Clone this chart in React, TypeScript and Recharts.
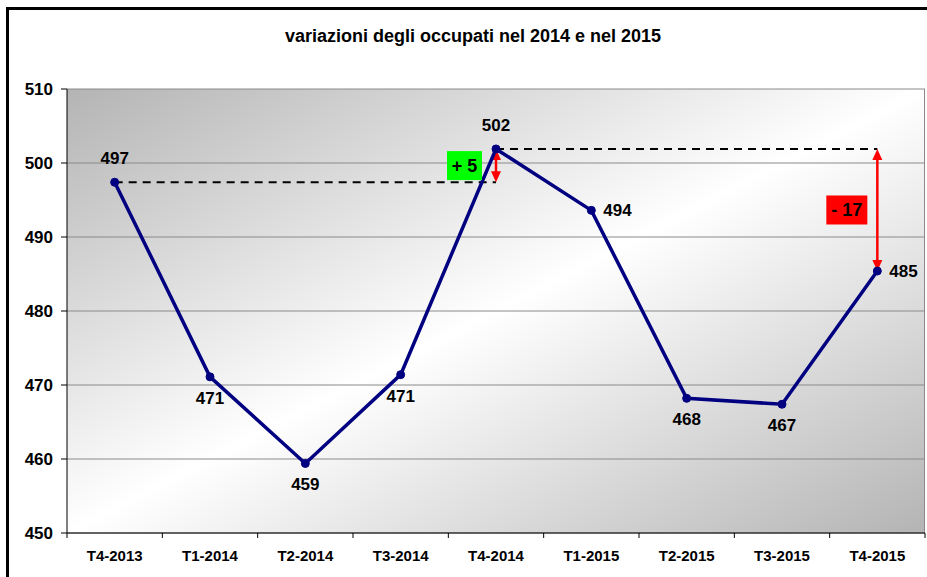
import React from 'react'
import {
  LineChart,
  Line,
  XAxis,
  YAxis,
  CartesianGrid,
  ReferenceLine,
  ReferenceDot,
  LabelList,
} from 'recharts'

// trimestri e occupati (migliaia)
const categories = ['T4-2013', 'T1-2014', 'T2-2014', 'T3-2014', 'T4-2014', 'T1-2015', 'T2-2015', 'T3-2015', 'T4-2015']
const occupati = [497.4, 471.1, 459.4, 471.4, 501.9, 493.6, 468.2, 467.4, 485.4]
const yTicks = [450, 460, 470, 480, 490, 500, 510]

// where each value label sits relative to its point
const labelSide = ['top', 'bottom', 'bottom', 'bottom', 'top', 'right', 'bottom', 'bottom', 'right']

const W = 927
const H = 577
const PLOT_LEFT = 67
const PLOT_RIGHT = 925
const PLOT_TOP = 89
const PLOT_BOTTOM = 533
const STEP = (PLOT_RIGHT - PLOT_LEFT) / categories.length
const FONT = '"Liberation Sans", Arial, sans-serif'

const data = categories.map((periodo, i) => ({ periodo, occupati: occupati[i] }))

const first = occupati[0]
const peak = occupati[4]
const last = occupati[8]
const diffUp = Math.round(peak) - Math.round(first)
const diffDown = Math.round(last) - Math.round(peak)

const XTick = (props: any) => {
  const { x, y, payload, index } = props
  const isLast = index === categories.length - 1
  return (
    <g>
      <line x1={x - STEP / 2} y1={y - 8} x2={x - STEP / 2} y2={y - 3} stroke="#000" />
      {isLast && <line x1={x + STEP / 2} y1={y - 8} x2={x + STEP / 2} y2={y - 3} stroke="#000" />}
      <text x={x} y={y + 20} textAnchor="middle" fontSize={15} fontWeight="bold" fill="#000" fontFamily={FONT}>
        {payload.value}
      </text>
    </g>
  )
}

const ValueLabel = (props: any) => {
  const { x, y, width, value, index } = props
  const cx = x + (width || 0) / 2
  const side = labelSide[index]
  let tx = cx
  let ty = y
  let anchor: any = 'middle'
  if (side === 'top') ty = y - 18
  else if (side === 'bottom') ty = y + 27
  else {
    tx = cx + 12
    ty = y + 6
    anchor = 'start'
  }
  return (
    <text x={tx} y={ty} textAnchor={anchor} fontSize={17} fontWeight="bold" fill="#000" fontFamily={FONT}>
      {Math.round(value)}
    </text>
  )
}

const arrowShape = (props: any) => {
  const { x1, y1, x2, y2 } = props
  const top = Math.min(y1, y2)
  const bot = Math.max(y1, y2)
  return (
    <g>
      <line x1={x1} y1={top + 5} x2={x2} y2={bot - 5} stroke="#ff0000" strokeWidth={2.5} />
      <polygon points={`${x1 - 5},${top + 11} ${x1 + 5},${top + 11} ${x1},${top}`} fill="#ff0000" />
      <polygon points={`${x1 - 5},${bot - 11} ${x1 + 5},${bot - 11} ${x1},${bot}`} fill="#ff0000" />
    </g>
  )
}

const boxShape = (text: string, fill: string, w: number, gap: number) => (props: any) => {
  const { cx, cy } = props
  const h = 29
  return (
    <g>
      <rect x={cx - gap - w} y={cy - h / 2} width={w} height={h} fill={fill} />
      <text
        x={cx - gap - w / 2}
        y={cy + 6.5}
        textAnchor="middle"
        fontSize={18}
        fontWeight="bold"
        fill="#000"
        fontFamily={FONT}
      >
        {text}
      </text>
    </g>
  )
}

export default function App() {
  return (
    <div style={{ position: 'absolute', left: 0, top: 0, width: W, height: H, background: '#fff', overflow: 'hidden' }}>
      <div
        style={{
          position: 'absolute',
          left: 6,
          top: 7,
          right: 0,
          bottom: 0,
          borderLeft: '3px solid #000',
          borderTop: '3px solid #000',
        }}
      />
      <div
        style={{
          position: 'absolute',
          left: 0,
          top: 26,
          width: 946,
          textAlign: 'center',
          fontFamily: FONT,
          fontWeight: 'bold',
          fontSize: 18,
          color: '#000',
        }}
      >
        variazioni degli occupati nel 2014 e nel 2015
      </div>
      <div style={{ position: 'absolute', left: 0, top: 0 }}>
        <LineChart
          width={W}
          height={H}
          data={data}
          margin={{ top: PLOT_TOP, right: W - PLOT_RIGHT, left: PLOT_LEFT - 55, bottom: H - PLOT_BOTTOM - 30 }}
        >
          <defs>
            <linearGradient id="plotBg" x1="0" y1="0" x2="1" y2="1">
              <stop offset="0%" stopColor="#b4b4b4" />
              <stop offset="50%" stopColor="#ffffff" />
              <stop offset="100%" stopColor="#b4b4b4" />
            </linearGradient>
          </defs>
          <CartesianGrid
            fill="url(#plotBg)"
            stroke="#8a8a8a"
            verticalPoints={[PLOT_RIGHT - 0.5]}
            vertical
          />
          <XAxis
            dataKey="periodo"
            scale="band"
            height={30}
            tickLine={false}
            axisLine={{ stroke: '#000' }}
            tick={<XTick />}
            interval={0}
          />
          <YAxis
            width={55}
            domain={[450, 510]}
            ticks={yTicks}
            axisLine={{ stroke: '#000' }}
            tickLine={{ stroke: '#000' }}
            tickSize={6}
            tickMargin={8}
            tick={{ fontSize: 17, fontWeight: 'bold', fill: '#000', fontFamily: FONT }}
          />
          <ReferenceLine
            segment={[{ x: categories[0], y: first }, { x: categories[4], y: first }]}
            stroke="#000"
            strokeWidth={2}
            strokeDasharray="8 6"
          />
          <ReferenceLine
            segment={[{ x: categories[4], y: peak }, { x: categories[8], y: peak }]}
            stroke="#000"
            strokeWidth={2}
            strokeDasharray="8 6"
          />
          <ReferenceLine segment={[{ x: categories[4], y: peak }, { x: categories[4], y: first }]} shape={arrowShape} />
          <ReferenceLine segment={[{ x: categories[8], y: peak }, { x: categories[8], y: last }]} shape={arrowShape} />
          <ReferenceDot
            x={categories[4]}
            y={(peak + first) / 2}
            shape={boxShape(`+ ${diffUp}`, '#00ff00', 35, 14)}
          />
          <ReferenceDot
            x={categories[8]}
            y={(peak + last) / 2}
            shape={boxShape(`- ${Math.abs(diffDown)}`, '#ff0000', 41, 10)}
          />
          <Line
            type="linear"
            dataKey="occupati"
            stroke="#000080"
            strokeWidth={3.5}
            dot={{ r: 4, fill: '#000080', stroke: '#000080', strokeWidth: 1 }}
            isAnimationActive={false}
          >
            <LabelList dataKey="occupati" content={<ValueLabel />} />
          </Line>
        </LineChart>
      </div>
    </div>
  )
}
